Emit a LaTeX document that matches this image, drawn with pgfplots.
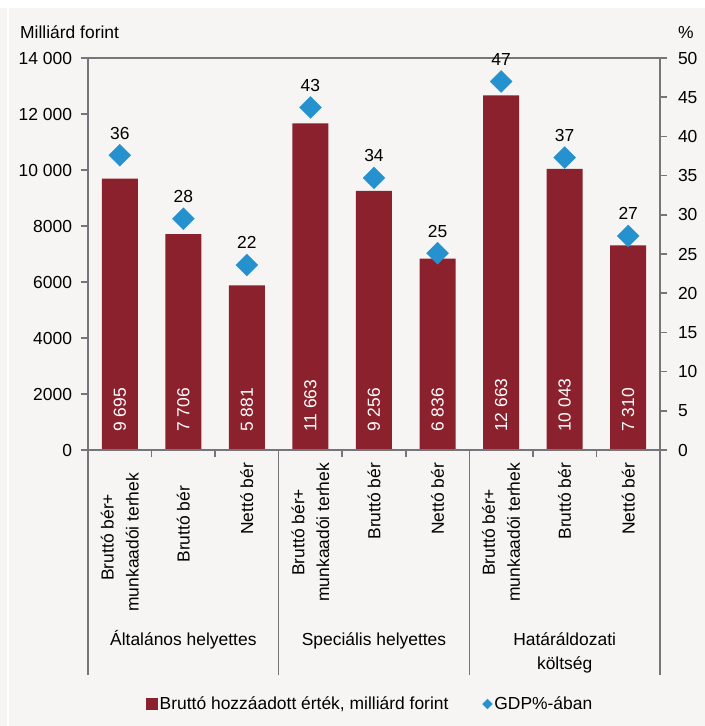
\documentclass[border=0pt]{standalone}
\usepackage{fontspec}
\setmainfont{Liberation Sans}
\usepackage{pgfplots}
\pgfplotsset{compat=1.18}

\definecolor{bg}{RGB}{246,245,243}
\definecolor{barred}{RGB}{139,33,45}
\definecolor{dblue}{RGB}{37,146,207}
\definecolor{axisgray}{RGB}{118,118,122}

\begin{document}
\fontsize{17.5}{25}\selectfont
\begin{tikzpicture}[font=\fontsize{17.5}{25}\selectfont]
\path[use as bounding box] (-88bp,-276bp) rectangle (617bp,450bp);
\fill[bg] (-88bp,-276bp) rectangle (617bp,450bp);
\fill[white] (-88bp,442bp) rectangle (617bp,450bp);
\fill[white] (-81bp,-276bp) rectangle (-79bp,450bp);

% bars, left axis
\begin{axis}[
  at={(0,0)}, anchor=south west,
  width=572bp, height=392bp, scale only axis,
  xmin=-0.5, xmax=8.5, ymin=0, ymax=14000,
  enlargelimits=false, clip=false,
  axis line style={draw=axisgray, line width=1.5bp},
  tick style={draw=axisgray, line width=1.5bp},
  tick align=outside, major tick length=7bp,
  xtick pos=left, ytick pos=left,
  xtick={-0.5,0.5,1.5,2.5,3.5,4.5,5.5,6.5,7.5,8.5}, xticklabels={},
  extra x ticks={-0.5,2.5,5.5,8.5}, extra x tick labels={},
  extra x tick style={major tick length=225bp},
  ytick={0,2000,4000,6000,8000,10000,12000,14000},
  yticklabels={0,2000,4000,6000,8000,10 000,12 000,14 000},
  yticklabel style={xshift=-3bp},
  scaled y ticks=false,
  legend columns=2,
  legend style={at={(0.493,-0.648)}, anchor=center, draw=none, fill=none,
    /tikz/every even column/.append style={column sep=32bp}},
]
\addplot[ybar, bar width=36bp, fill=barred, draw=none,
  legend image code/.code={\fill[barred] (0bp,-6bp) rectangle (12bp,6bp);}]
  coordinates {(0,9695) (1,7706) (2,5881) (3,11663) (4,9256) (5,6836)
               (6,12663) (7,10043) (8,7310)};
\addlegendentry{Bruttó hozzáadott érték, milliárd forint}
\addlegendimage{only marks, color=dblue, mark=square*, mark size=3.5bp,
  mark options={rotate=45, fill=dblue, draw=dblue, line width=0.2bp}}
\addlegendentry{GDP\%-ában}

\addplot[draw=none, mark=none, forget plot, nodes near coords,
  point meta=explicit symbolic,
  every node near coord/.append style={anchor=west, rotate=90, text=white,
    inner xsep=18bp, inner ysep=0pt}]
  coordinates {(0,0) [9 695] (1,0) [7 706] (2,0) [5 881] (3,0) [11 663]
               (4,0) [9 256] (5,0) [6 836] (6,0) [12 663] (7,0) [10 043]
               (8,0) [7 310]};

\node[anchor=base, yshift=-195bp] at (axis cs:1,0) {Általános helyettes};
\node[anchor=base, yshift=-195bp] at (axis cs:4,0) {Speciális helyettes};
\node[anchor=base, yshift=-195bp] at (axis cs:7,0) {Határáldozati};
\node[anchor=base, yshift=-219bp] at (axis cs:7,0) {költség};
\end{axis}

% diamonds, right axis
\begin{axis}[
  at={(0,0)}, anchor=south west,
  width=572bp, height=392bp, scale only axis,
  xmin=-0.5, xmax=8.5, ymin=0, ymax=50,
  enlargelimits=false,
  axis y line*=right, axis x line*=bottom,
  axis line style={draw=axisgray, line width=1.5bp, -},
  tick style={draw=axisgray, line width=1.5bp},
  tick align=outside, major tick length=7bp,
  ytick={0,5,10,15,20,25,30,35,40,45,50},
  yticklabels={0,5,10,15,20,25,30,35,40,45,50},
  yticklabel style={xshift=5bp},
  xtick={0,1,2,3,4,5,6,7,8}, xtick style={draw=none},
  xticklabels={{Bruttó bér+\\munkaadói terhek\rule{10bp}{0pt}},
    {Bruttó bér\rule{23bp}{0pt}}, {Nettó bér},
    {Bruttó bér+\\munkaadói terhek}, {Bruttó bér}, {Nettó bér},
    {Bruttó bér+\\munkaadói terhek}, {Bruttó bér}, {Nettó bér}},
  xticklabel style={rotate=90, anchor=east, align=center,
    font=\fontsize{17.5}{25}\selectfont},
]
\addplot[only marks, color=dblue, mark=square*, mark size=7.8bp,
  mark options={rotate=45, fill=dblue, draw=dblue, line width=0.2bp},
  nodes near coords, point meta=explicit symbolic,
  every node near coord/.append style={anchor=base, yshift=16bp,
    text=black, inner sep=0pt}]
  coordinates {(0,37.6) [36] (1,29.5) [28] (2,23.6) [22] (3,43.7) [43]
               (4,34.7) [34] (5,25.1) [25] (6,47.0) [47] (7,37.3) [37]
               (8,27.3) [27]};
\end{axis}

\node[anchor=base west, inner sep=0pt] at (-68bp,411bp) {Milliárd forint};
\node[anchor=base west, inner sep=0pt] at (590bp,411bp) {\%};
\end{tikzpicture}
\end{document}
